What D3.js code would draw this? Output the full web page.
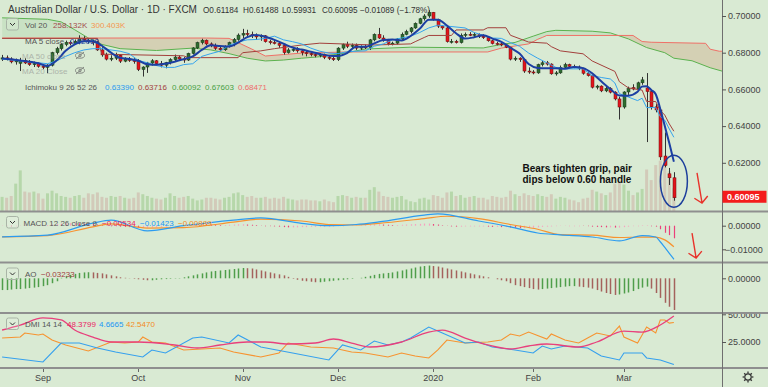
<!DOCTYPE html>
<html>
<head>
<meta charset="utf-8">
<script src="https://cdn.jsdelivr.net/npm/d3@7"></script>
<style>
  body { margin: 0; background: #d9ead3; }
  svg { display: block; font-family: "Liberation Sans", Arial, sans-serif; }
</style>
</head>
<body>
<div id="chart"></div>
<script>
// AUD/USD daily candles, bar 0 = 20 Aug 2019, bar 148 = 17 Mar 2020
const open  = [.6765,.6772,.6766,.6750,.6742,.6758,.6744,.6735,.6740,.6726,.6720,.6732,.6800,.6822,.6845,.6856,.6850,.6862,.6876,.6868,.6860,.6856,.6815,.6788,.6765,.6770,.6786,.6754,.6766,.6758,.6752,.6708,.6722,.6744,.6756,.6740,.6732,.6746,.6762,.6776,.6766,.6760,.6796,.6826,.6855,.6868,.6848,.6840,.6824,.6816,.6835,.6855,.6872,.6896,.6905,.6900,.6895,.6886,.6892,.6860,.6856,.6850,.6840,.6800,.6815,.6818,.6810,.6800,.6795,.6790,.6786,.6790,.6775,.6770,.6762,.6825,.6845,.6835,.6840,.6825,.6832,.6828,.6870,.6900,.6880,.6868,.6850,.6852,.6875,.6900,.6915,.6935,.6960,.6985,.7000,.7020,.6980,.6945,.6935,.6860,.6862,.6855,.6895,.6900,.6895,.6900,.6890,.6882,.6865,.6850,.6848,.6842,.6830,.6765,.6770,.6762,.6700,.6695,.6690,.6735,.6745,.6738,.6685,.6690,.6720,.6735,.6725,.6722,.6715,.6688,.6675,.6612,.6618,.6592,.6605,.6585,.6548,.6504,.6586,.6610,.6602,.6636,.6608,.6588,.6505,.6488,.6237,.6140,.61184];
const high  = [.6788,.6785,.6775,.6768,.6772,.6770,.6760,.6752,.6748,.6738,.6738,.6805,.6832,.6852,.6866,.6866,.6872,.6895,.6890,.6876,.6870,.6864,.6830,.6800,.6786,.6800,.6790,.6775,.6776,.6770,.6765,.6726,.6750,.6765,.6760,.6755,.6750,.6770,.6790,.6785,.6776,.6800,.6830,.6860,.6876,.6872,.6856,.6850,.6835,.6840,.6860,.6880,.6905,.6930,.6925,.6915,.6905,.6900,.6896,.6870,.6870,.6860,.6845,.6825,.6830,.6830,.6820,.6810,.6805,.6800,.6798,.6795,.6785,.6780,.6830,.6850,.6860,.6850,.6850,.6840,.6845,.6875,.6905,.6935,.6895,.6875,.6860,.6880,.6910,.6925,.6940,.6965,.6990,.7010,.7032,.7022,.6985,.6950,.6945,.6875,.6870,.6905,.6910,.6912,.6910,.6905,.6900,.6890,.6870,.6860,.6855,.6848,.6832,.6780,.6775,.6765,.6720,.6705,.6740,.6755,.6755,.6742,.6700,.6730,.6745,.6740,.6735,.6730,.6718,.6695,.6680,.6625,.6622,.6615,.6612,.6590,.6560,.6590,.6615,.6628,.6642,.6668,.6689,.6600,.6520,.6500,.6365,.6172,.61488];
const low   = [.6755,.6758,.6742,.6735,.6700,.6738,.6728,.6722,.6718,.6710,.6688,.6725,.6790,.6812,.6835,.6840,.6844,.6846,.6858,.6850,.6840,.6810,.6778,.6758,.6754,.6760,.6744,.6748,.6750,.6740,.6700,.6670,.6690,.6730,.6730,.6720,.6715,.6736,.6755,.6755,.6745,.6755,.6790,.6820,.6845,.6840,.6830,.6815,.6810,.6810,.6828,.6835,.6865,.6880,.6890,.6880,.6870,.6865,.6855,.6845,.6845,.6826,.6790,.6795,.6805,.6800,.6785,.6780,.6780,.6775,.6775,.6765,.6760,.6755,.6755,.6815,.6825,.6825,.6815,.6815,.6820,.6815,.6862,.6875,.6860,.6840,.6840,.6845,.6870,.6895,.6905,.6930,.6955,.6975,.6990,.6975,.6935,.6925,.6855,.6850,.6850,.6850,.6885,.6890,.6885,.6880,.6875,.6860,.6845,.6840,.6835,.6825,.6758,.6755,.6750,.6690,.6685,.6682,.6685,.6725,.6730,.6680,.6675,.6685,.6715,.6715,.6715,.6705,.6680,.6670,.6605,.6600,.6585,.6585,.6578,.6540,.6436,.6495,.6570,.6595,.6598,.6625,.6313,.6490,.6475,.6215,.6175,.6079,.59931];
const close = [.6772,.6766,.6750,.6760,.6758,.6744,.6735,.6740,.6726,.6720,.6732,.6800,.6822,.6845,.6856,.6850,.6862,.6876,.6868,.6860,.6856,.6815,.6788,.6765,.6770,.6786,.6754,.6766,.6758,.6752,.6708,.6722,.6744,.6756,.6740,.6732,.6746,.6762,.6776,.6766,.6760,.6796,.6826,.6855,.6868,.6848,.6840,.6824,.6816,.6835,.6855,.6872,.6896,.6905,.6900,.6895,.6886,.6892,.6860,.6856,.6850,.6840,.6800,.6815,.6818,.6810,.6800,.6795,.6790,.6786,.6790,.6775,.6770,.6762,.6825,.6845,.6835,.6840,.6825,.6832,.6828,.6870,.6900,.6880,.6868,.6850,.6852,.6875,.6900,.6915,.6935,.6960,.6985,.7000,.7020,.6980,.6945,.6935,.6860,.6862,.6855,.6895,.6900,.6895,.6900,.6890,.6882,.6865,.6850,.6848,.6842,.6830,.6765,.6770,.6762,.6700,.6695,.6690,.6735,.6745,.6738,.6685,.6690,.6720,.6735,.6725,.6722,.6715,.6688,.6675,.6612,.6618,.6592,.6605,.6585,.6548,.6504,.6586,.6605,.6602,.6636,.6652,.6588,.6505,.6488,.6232,.6185,.61184,.60095];
// volume in thousands
const volume = [160,150,170,310,460,220,210,220,200,140,200,230,200,170,160,150,170,180,150,200,190,210,160,150,170,160,170,150,140,150,210,190,170,150,140,130,150,200,170,150,160,170,140,120,130,150,150,140,130,150,160,200,210,180,160,170,150,150,160,140,150,140,160,140,130,120,130,130,120,120,110,130,110,100,170,180,170,150,160,150,150,240,270,220,170,160,150,160,170,130,110,100,140,150,130,180,170,150,210,220,170,180,150,160,170,150,150,130,170,160,150,160,230,190,170,200,180,170,190,170,160,190,140,160,150,130,120,100,140,150,240,220,200,180,210,310,330,300,230,180,210,250,470,350,520,570,520,450,258];

// overlay lines: [bar index, value]
const ma5 = [[0,.6768],[4,.6758],[8,.6742],[10,.6728],[12,.6757],[14,.6810],[16,.6845],[18,.6862],[20,.6862],[22,.6838],[24,.6800],[26,.6772],[28,.6766],[30,.6756],[32,.6737],[34,.6734],[36,.6740],[38,.6751],[40,.6765],[42,.6780],[44,.6815],[46,.6840],[48,.6837],[50,.6834],[52,.6855],[54,.6885],[56,.6896],[58,.6887],[60,.6870],[62,.6849],[64,.6828],[66,.6817],[68,.6805],[70,.6793],[72,.6784],[74,.6782],[76,.6798],[78,.6833],[80,.6832],[82,.6851],[84,.6869],[86,.6872],[88,.6867],[90,.6891],[92,.6930],[94,.6980],[96,.6980],[98,.6948],[100,.6906],[102,.6877],[104,.6884],[106,.6895],[108,.6877],[110,.6859],[112,.6827],[114,.6795],[116,.6738],[118,.6717],[120,.6715],[122,.6715],[124,.6713],[126,.6722],[128,.6716],[130,.6688],[132,.6644],[134,.6602],[136,.6567],[138,.6566],[140,.6587],[141,.6616],[142,.6617],[143,.6597],[144,.6574],[145,.6493],[146,.6400],[147,.6306],[148,.6206]];
const tenkan = [[0,.6765],[8,.6745],[10,.6740],[12,.6755],[14,.6780],[16,.6800],[18,.6815],[20,.6822],[22,.6822],[24,.6815],[26,.6808],[28,.6795],[30,.6758],[32,.6745],[34,.6730],[36,.6720],[38,.6720],[40,.6735],[42,.6740],[44,.6780],[46,.6795],[48,.6808],[50,.6840],[52,.6858],[54,.6870],[56,.6872],[58,.6878],[60,.6890],[62,.6870],[64,.6860],[66,.6848],[68,.6825],[70,.6808],[72,.6798],[74,.6795],[76,.6805],[78,.6808],[80,.6810],[82,.6835],[84,.6848],[86,.6870],[88,.6880],[90,.6890],[92,.6910],[94,.6935],[96,.6950],[98,.6945],[100,.6940],[102,.6935],[104,.6910],[106,.6895],[108,.6880],[110,.6878],[112,.6855],[114,.6835],[116,.6798],[118,.6770],[120,.6745],[122,.6720],[124,.6712],[126,.6712],[128,.6712],[130,.6675],[132,.6665],[134,.6657],[135,.6635],[136,.6577],[138,.6558],[140,.6539],[141,.6552],[142,.6501],[144,.6501],[145,.6452],[146,.6432],[147,.6384],[148,.6339]];
const kijun = [[0,.6878],[21,.6878],[22,.6792],[40,.6783],[41,.6773],[52,.6773],[53,.6800],[57,.6810],[60,.6822],[66,.6842],[70,.6852],[82,.6842],[90,.6848],[91,.6860],[93,.6883],[94,.6894],[99,.6894],[100,.6924],[106,.6924],[107,.6936],[111,.6936],[112,.6895],[116,.6858],[120,.6852],[121,.6833],[123,.6810],[128,.6794],[130,.6755],[135,.6698],[136,.6642],[138,.6608],[141,.6596],[142,.6534],[144,.6534],[145,.6485],[146,.6460],[147,.6412],[148,.6372]];
const senkouA = [[0,.6990],[10,.6982],[13,.6968],[16,.6925],[19,.6880],[22,.6845],[26,.6822],[34,.6812],[42,.6825],[46,.6815],[50,.6795],[54,.6770],[58,.6755],[62,.6760],[66,.6770],[70,.6778],[76,.6800],[80,.6820],[90,.6830],[106,.6826],[110,.6845],[113,.6856],[117,.6890],[120,.6915],[122,.6922],[130,.6917],[134,.6908],[138,.6875],[142,.6828],[146,.6800],[148,.6770],[152,.6756],[156,.6718],[160,.6690]];
const senkouB = [[0,.6880],[45,.6880],[50,.6878],[55,.6820],[58,.6782],[62,.6790],[66,.6798],[76,.6804],[107,.6804],[110,.6825],[116,.6848],[117,.6860],[118,.6873],[119,.6883],[120,.6894],[139,.6894],[141,.6861],[143,.6857],[155,.6851],[156,.6819],[158,.6808],[160,.6808]];

// MACD 12 26 9
const macdLine = [[0,-.0047],[10,-.0040],[20,.0011],[24,.0024],[32,-.0022],[40,.0000],[51,.0024],[57,.0033],[66,.0010],[72,.0000],[78,.0005],[83,.0016],[93,.0045],[96,.0050],[105,.0020],[112,-.0005],[118,-.0031],[123,-.0039],[130,-.0048],[136,-.0064],[141,-.0042],[144,-.0048],[145,-.0068],[146,-.0092],[147,-.0117],[148,-.01423]];
const signalLine = [[0,-.0047],[10,-.0042],[20,-.0005],[24,.0008],[32,-.0010],[40,-.0008],[51,.0015],[57,.0028],[66,.0020],[72,.0005],[78,.0003],[83,.0010],[93,.0030],[98,.0040],[105,.0030],[112,.0005],[118,-.0015],[123,-.0038],[130,-.0040],[136,-.0050],[141,-.0048],[144,-.0048],[146,-.0060],[148,-.00889]];
// histogram in 1e-4
const macdHist = [1,1,0,0,1,1,1,2,2,2, 3,5,7,9,10,11,11,10,9,8, 7,5,3,1,0,-2,-4,-5,-6,-7, -9,-9,-8,-7,-6,-5,-4,-3,-2,0, 2,4,6,8,8,7,5,4,3,3, 4,5,6,6,5,4,3,1,0,-2, -3,-4,-6,-7,-7,-7,-6,-6,-5,-5, -5,-5,-5,-4,-2,0,1,2,2,2, 3,5,6,6,5,4,3,3,4,5, 6,7,8,9,9,7,5,2,-1,-3, -4,-4,-3,-3,-3,-3,-3,-4,-5,-5, -6,-6,-8,-9,-10,-10,-10,-9,-7,-5, -4,-3,-2,-1,-1,0,0,0,-1,-2, -4,-5,-6,-7,-7,-8,-8,-6,-4,-2, 0,2,2,0,-4,-15,-30,-40,-53.4];
// awesome oscillator in 1e-3
const ao = [-12,-12,-11.5,-11,-11,-10.5,-10,-9.5,-9,-8, -7,-5,-3,0.5,2,3.5,4.5,5.5,6,6.2, 6,5.5,5,4,3,2,1,0.5,0.2,-0.5, -1,-1.5,-2,-2,-1.5,-1,-0.8,-0.5,-0.3,0.3, 1,2,3,4,5,6,7,7.5,8,8.5, 9,9.5,10,10.5,10.3,10,9,8,7,6, 5,4,3,1.5,-0.5,-1.5,-2.5,-3,-3.5,-4, -4,-3.5,-3,-2.5,-2,-1.5,-1,-0.5,0,0.5, 1.5,2.5,3.5,4.5,5,5.5,6,7,8,9, 10,11,12,12.5,13,12.5,12,11,10,9, 8,7,6,5,4,3,2,1,0,-1, -2,-3,-5,-7,-8,-9,-10,-11,-11.5,-11, -10.5,-10,-9.5,-9,-8.5,-8,-8,-8.5,-9,-9.5, -10.5,-12,-13.5,-15,-16,-17,-16.5,-15.5,-14.5,-13, -11,-9.5,-8.5,-10.5,-15,-20,-25,-29,-32.33];

// DMI 14 14
const adx = [[0,35.8],[4,40.3],[9,46.7],[13,44.9],[16,35.8],[20,29.5],[24,25],[30,25],[38,22.3],[43,19.6],[48,22.3],[54,25],[58,25],[63,23.2],[69,24.1],[73,27.7],[77,24],[81,20.5],[88,25],[94,34],[97,35.8],[102,28.6],[107,22.3],[112,18.7],[116,21.4],[120,23.2],[127,20.5],[131,25],[137,34.9],[141,34],[145,40.3],[148,48.38]];
const plusDI = [[0,11.5],[9,7],[13,24.1],[17,24.1],[21,19.6],[25,16],[31,11.5],[33,17.8],[36,15.1],[42,28.6],[44,29.5],[50,24.1],[52,31.3],[57,20.5],[64,15.1],[72,8.8],[75,22.3],[79,17.8],[82,25.9],[85,22.3],[88,25],[90,28.6],[94,38.5],[97,33.1],[102,24.1],[105,25],[108,20.5],[113,17.8],[117,15.1],[119,21.4],[121,18.7],[124,21.4],[129,19.6],[132,12.4],[136,8.8],[137,15.1],[141,15.1],[142,10.6],[145,8.8],[148,4.67]];
const minusDI = [[0,28.6],[4,29.5],[5,33.1],[8,31.3],[9,32.2],[11,26.8],[14,22.3],[19,16.9],[24,25],[27,24.1],[30,25],[31,29.5],[33,25],[36,24.1],[40,17.8],[48,19.6],[51,16],[57,11.5],[61,15.1],[63,24.1],[68,20.5],[73,19.6],[77,16],[80,15.1],[85,11.5],[88,15.1],[91,12.4],[94,10.6],[96,17.8],[98,26.8],[102,24.1],[107,25],[110,26.8],[112,32.2],[114,30.4],[116,34],[120,27.7],[121,32.2],[124,26.8],[127,24.1],[129,28.6],[131,33.1],[134,30.4],[136,39.4],[137,29.5],[140,24.1],[142,38.5],[144,33.1],[145,44.9],[146,44.9],[147,42],[148,42.55]];

// axes
const monthLabels = ["Sep", "Oct", "Nov", "Dec", "2020", "Feb", "Mar"];
const monthBars = [9, 30, 53, 74, 95, 117, 137];
const priceTicks = [0.62, 0.64, 0.66, 0.68, 0.70];
const macdTicks = [0, -0.01];
const aoTicks = [0];
const dmiTicks = [25, 50];

const W = 768, H = 387, axisX = 722;
const svg = d3.select("#chart").append("svg").attr("width", W).attr("height", H);
svg.append("rect").attr("width", W).attr("height", H).attr("fill", "#d9ead3");

const x = d3.scaleLinear().domain([0, 160]).range([2.1, 2.1 + 160 * 4.539]);
const yPrice = d3.scaleLinear().domain([0.59, 0.71]).range([217.85, -2.35]);
const yVol = d3.scaleLinear().domain([0, 1000]).range([211, 122.7]);
const yMacd = d3.scaleLinear().domain([-0.02, 0.01]).range([272.9, 202.1]);
const yAo = d3.scaleLinear().domain([-0.04, 0.02]).range([317.5, 258.7]);
const yDmi = d3.scaleLinear().domain([0, 60]).range([369.7, 303.22]);

const defs = svg.append("defs");
function clip(id, y0, y1) {
  defs.append("clipPath").attr("id", id).append("rect")
    .attr("x", 0).attr("y", y0).attr("width", axisX).attr("height", y1 - y0);
}
clip("cPrice", 0, 211);
clip("cMacd", 212, 262);
clip("cAo", 263, 313);
clip("cDmi", 314, 368);

const fmt5 = d3.format(".5f");
const up = close.map((c, i) => c >= open[i]);

// ---------- price panel ----------
const gp = svg.append("g").attr("clip-path", "url(#cPrice)");

gp.selectAll(".vol").data(volume).join("rect")
  .attr("x", (d, i) => x(i) - 1.5).attr("width", 3)
  .attr("y", d => yVol(d)).attr("height", d => 211 - yVol(d))
  .attr("fill", (d, i) => up[i] ? "#b6d7aa" : "#d2cab9");

const pLine = d3.line().x(d => x(d[0])).y(d => yPrice(d[1]));

// ichimoku cloud: tan where B above A, faint green where A above B
const cloudPoly = pLine(senkouA.concat(senkouB.slice().reverse())) + "Z";
const bPath = pLine(senkouB);
defs.append("clipPath").attr("id", "belowB").append("path")
  .attr("d", bPath + `L${x(160)},400L${x(0)},400Z`);
defs.append("clipPath").attr("id", "aboveB").append("path")
  .attr("d", bPath + `L${x(160)},-20L${x(0)},-20Z`);
gp.append("path").attr("d", cloudPoly).attr("fill", "rgba(200,140,100,0.28)")
  .attr("clip-path", "url(#belowB)");
gp.append("path").attr("d", cloudPoly).attr("fill", "rgba(67,160,71,0.10)")
  .attr("clip-path", "url(#aboveB)");
gp.append("path").attr("d", pLine(senkouA)).attr("fill", "none").attr("stroke", "#5cb24f").attr("stroke-width", 1);
gp.append("path").attr("d", bPath).attr("fill", "none").attr("stroke", "#f07067").attr("stroke-width", 1);

// candles
const cg = gp.append("g");
cg.selectAll(".wick").data(close).join("line")
  .attr("x1", (d, i) => Math.round(x(i)) + 0.5).attr("x2", (d, i) => Math.round(x(i)) + 0.5)
  .attr("y1", (d, i) => yPrice(high[i])).attr("y2", (d, i) => yPrice(low[i]))
  .attr("stroke", "#333").attr("stroke-width", 1);
cg.selectAll(".body").data(close).join("rect")
  .attr("x", (d, i) => Math.round(x(i)) - 1).attr("width", 3)
  .attr("y", (d, i) => yPrice(Math.max(open[i], d)))
  .attr("height", (d, i) => Math.max(1, Math.abs(yPrice(open[i]) - yPrice(d))))
  .attr("fill", (d, i) => up[i] ? "#2f6c31" : "#e3141b")
  .attr("stroke", (d, i) => up[i] ? "#1a3a1a" : "#6a1212").attr("stroke-width", 0.5);

gp.append("path").attr("d", pLine(kijun)).attr("fill", "none").attr("stroke", "#a3403c").attr("stroke-width", 1);
gp.append("path").attr("d", pLine(tenkan)).attr("fill", "none").attr("stroke", "#35a4ee").attr("stroke-width", 1);
gp.append("path").attr("d", pLine.curve(d3.curveMonotoneX)(ma5)).attr("fill", "none")
  .attr("stroke", "#1c3fa3").attr("stroke-width", 2);
pLine.curve(d3.curveLinear);

// ---------- MACD panel ----------
const gm = svg.append("g").attr("clip-path", "url(#cMacd)");
gm.selectAll(".h").data(macdHist).join("line")
  .attr("x1", (d, i) => Math.round(x(i)) + 0.5).attr("x2", (d, i) => Math.round(x(i)) + 0.5)
  .attr("y1", yMacd(0)).attr("y2", d => yMacd(d / 10000) + (d === 0 ? 0.6 : 0))
  .attr("stroke", (d, i) => (i > 0 && d < macdHist[i - 1]) ? "#ec407a" : "#f7a1c0")
  .attr("stroke-width", 1.2);
const mLine = d3.line().x(d => x(d[0])).y(d => yMacd(d[1])).curve(d3.curveMonotoneX);
gm.append("path").attr("d", mLine(signalLine)).attr("fill", "none").attr("stroke", "#f7932f").attr("stroke-width", 1.2);
gm.append("path").attr("d", mLine(macdLine)).attr("fill", "none").attr("stroke", "#2c9cf0").attr("stroke-width", 1.2);

// ---------- AO panel ----------
const ga = svg.append("g").attr("clip-path", "url(#cAo)");
ga.selectAll(".ao").data(ao).join("line")
  .attr("x1", (d, i) => Math.round(x(i)) + 0.5).attr("x2", (d, i) => Math.round(x(i)) + 0.5)
  .attr("y1", yAo(0)).attr("y2", d => yAo(d / 1000))
  .attr("stroke", (d, i) => (i === 0 || d >= ao[i - 1]) ? "#4f9e4a" : "#a4625c")
  .attr("stroke-width", 1.5);

// ---------- DMI panel ----------
const gd = svg.append("g").attr("clip-path", "url(#cDmi)");
const dLine = d3.line().x(d => x(d[0])).y(d => yDmi(d[1]));
gd.append("path").attr("d", dLine(minusDI)).attr("fill", "none").attr("stroke", "#f7932f").attr("stroke-width", 1.1);
gd.append("path").attr("d", dLine(plusDI)).attr("fill", "none").attr("stroke", "#35a0ee").attr("stroke-width", 1.1);
gd.append("path").attr("d", dLine.curve(d3.curveMonotoneX)(adx)).attr("fill", "none").attr("stroke", "#e8407c").attr("stroke-width", 1.3);

// ---------- separators and axes ----------
[211.5, 262.5, 313, 368].forEach(y => {
  svg.append("line").attr("x1", 0).attr("x2", W).attr("y1", y).attr("y2", y)
    .attr("stroke", "#8f8f8f").attr("stroke-width", 2);
});
svg.append("line").attr("x1", axisX + 0.5).attr("x2", axisX + 0.5).attr("y1", 0).attr("y2", H)
  .attr("stroke", "#6f6f6f").attr("stroke-width", 1);

function rightAxis(scale, ticks, format, clipId) {
  const g = svg.append("g").attr("transform", `translate(${axisX},0)`)
    .call(d3.axisRight(scale).tickValues(ticks).tickFormat(format).tickSize(4).tickPadding(2));
  g.select(".domain").remove();
  g.selectAll(".tick line").attr("stroke", "#555");
  g.selectAll(".tick text").attr("fill", "#444").attr("font-size", 9)
    .attr("font-family", '"Liberation Sans", Arial, sans-serif')
    .attr("dx", d => d < 0 ? -3 : 0);
  if (clipId) g.attr("clip-path", `url(#${clipId})`);
  return g;
}
defs.append("clipPath").attr("id", "cDmiAxis").append("rect")
  .attr("x", -5).attr("y", 314).attr("width", 60).attr("height", 54);
rightAxis(yPrice, priceTicks, fmt5);
rightAxis(yMacd, macdTicks, fmt5);
rightAxis(yAo, aoTicks, fmt5);
rightAxis(yDmi, dmiTicks, d3.format(".4f"), "cDmiAxis");

// last price tag
const lastY = yPrice(close[close.length - 1]);
svg.append("rect").attr("x", axisX + 0.5).attr("y", lastY - 7).attr("width", 44).attr("height", 12)
  .attr("fill", "#f41c1c");
svg.append("text").attr("x", axisX + 5).attr("y", lastY + 2.5).attr("fill", "#fff")
  .attr("font-size", 9).attr("font-weight", "bold").text(fmt5(close[close.length - 1]));

// time axis
svg.selectAll(".mon").data(monthLabels).join("text")
  .attr("x", (d, i) => x(monthBars[i])).attr("y", 381)
  .attr("text-anchor", "middle").attr("font-size", 9).attr("fill", "#444").text(d => d);
svg.selectAll(".mtick").data(monthBars).join("line")
  .attr("x1", d => Math.round(x(d)) + 0.5).attr("x2", d => Math.round(x(d)) + 0.5)
  .attr("y1", 369).attr("y2", 372).attr("stroke", "#666");

// gear icon
const gear = svg.append("g").attr("transform", "translate(748,377)");
gear.append("circle").attr("r", 3.2).attr("fill", "none").attr("stroke", "#333").attr("stroke-width", 1.2);
d3.range(8).forEach(k => {
  const a = k * Math.PI / 4;
  gear.append("line").attr("x1", Math.cos(a) * 3.6).attr("y1", Math.sin(a) * 3.6)
    .attr("x2", Math.cos(a) * 5.4).attr("y2", Math.sin(a) * 5.4)
    .attr("stroke", "#333").attr("stroke-width", 1.3);
});

// ---------- legends ----------
function txt(xp, yp, s, color, size, extra) {
  const t = svg.append("text").attr("x", xp).attr("y", yp).attr("fill", color)
    .attr("font-size", size || 8).text(s);
  if (extra) extra(t);
  return t;
}
function chevronBox(yTop) {
  svg.append("rect").attr("x", 6.5).attr("y", yTop).attr("width", 12).attr("height", 11.5).attr("rx", 2)
    .attr("fill", "rgba(255,255,255,0.15)").attr("stroke", "#a9b5a6");
  svg.append("path").attr("d", `M10,${yTop + 4.5}L12.5,${yTop + 7}L15,${yTop + 4.5}`)
    .attr("fill", "none").attr("stroke", "#333").attr("stroke-width", 1);
}
function eyeOff(cx, cy) {
  const g = svg.append("g").attr("transform", `translate(${cx},${cy})`).attr("opacity", 0.75);
  g.append("ellipse").attr("rx", 4.5).attr("ry", 2.7).attr("fill", "none").attr("stroke", "#666");
  g.append("circle").attr("r", 1.2).attr("fill", "none").attr("stroke", "#666");
  g.append("line").attr("x1", -4).attr("y1", 3.5).attr("x2", 4).attr("y2", -3.5).attr("stroke", "#666");
}

txt(8, 13, "Australian Dollar / U.S. Dollar · 1D · FXCM", "#333", 10);
txt(203, 13, "O0.61184", "#333", 8.2);
txt(243, 13, "H0.61488", "#333", 8.2);
txt(282, 13, "L0.59931", "#333", 8.2);
txt(322, 13, "C0.60095", "#333", 8.2);
txt(360, 13, "−0.01089 (−1.78%)", "#333", 8.2);

chevronBox(18.5);
txt(25, 28, "Vol 20", "#555");
txt(53, 28, "258.132K", "#a34e4e");
txt(91, 28, "300.403K", "#f59650");
txt(25, 43.5, "MA 5 close", "#555");
txt(70, 43.5, "0.62060", "#1f47a3");
txt(22, 58.5, "MA 50 close", "#888", 8, t => t.attr("opacity", 0.55));
eyeOff(80, 55.5);
txt(22, 74, "MA 20 Close", "#888", 8, t => t.attr("opacity", 0.55));
eyeOff(80, 70.5);
txt(25, 89.5, "Ichimoku 9 26 52 26", "#555");
txt(105, 89.5, "0.63390", "#2a9af0");
txt(138, 89.5, "0.63716", "#a3403c");
txt(172, 89.5, "0.60092", "#47a043");
txt(205, 89.5, "0.67603", "#47a043");
txt(238, 89.5, "0.68471", "#ef6b6b");

chevronBox(216.5);
txt(23.5, 225.5, "MACD 12 26 close 9", "#555");
txt(102, 225.5, "−0.00534", "#e91e63");
txt(140, 225.5, "−0.01423", "#2196f3");
txt(178, 225.5, "−0.00889", "#f38a1f");

chevronBox(268);
txt(25, 277, "AO", "#555");
txt(41, 277, "−0.03233", "#a04040");

chevronBox(318);
txt(25, 327, "DMI 14 14", "#555");
txt(67, 327, "48.3799", "#e91e63");
txt(99, 327, "4.6665", "#2196f3");
txt(126, 327, "42.5470", "#f38a1f");

// ---------- annotations ----------
txt(522.5, 171.5, "Bears tighten grip, pair", "#111", 10, t => t.attr("font-weight", "bold"));
txt(522.5, 182.5, "dips below 0.60 handle", "#111", 10, t => t.attr("font-weight", "bold"));

svg.append("ellipse").attr("cx", x(148)).attr("cy", yPrice(0.6100)).attr("rx", 13.5).attr("ry", 26)
  .attr("fill", "none").attr("stroke", "#1d3f9c").attr("stroke-width", 1.5);

function arrow(x0, y0, x1, y1) {
  const ang = Math.atan2(y1 - y0, x1 - x0);
  const len = 9, spread = 0.85;
  const w1 = [x1 - len * Math.cos(ang - spread), y1 - len * Math.sin(ang - spread)];
  const w2 = [x1 - len * Math.cos(ang + spread), y1 - len * Math.sin(ang + spread)];
  svg.append("path")
    .attr("d", `M${x0},${y0}L${x1},${y1}M${w1[0]},${w1[1]}L${x1},${y1}L${w2[0]},${w2[1]}`)
    .attr("fill", "none").attr("stroke", "#e8332b").attr("stroke-width", 1.4);
}
arrow(x(153.1), yPrice(0.6145), x(154.2), yPrice(0.5981));
arrow(x(152.0), yMacd(-0.0031), x(152.9), yMacd(-0.0137));
</script>
</body>
</html>
